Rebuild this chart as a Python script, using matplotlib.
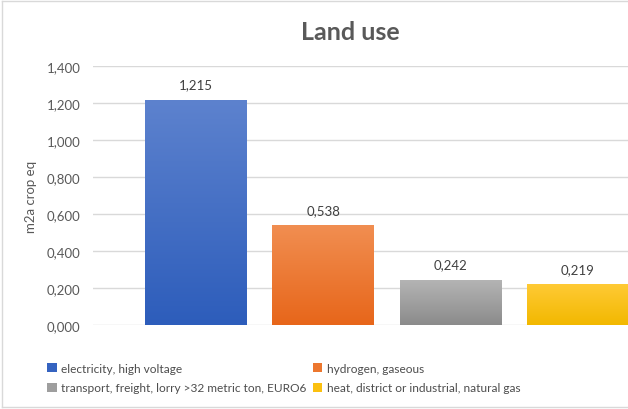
import matplotlib
matplotlib.use("Agg")
import matplotlib.pyplot as plt
import numpy as np
from matplotlib.patches import Patch
from matplotlib.lines import Line2D
from matplotlib.colors import LinearSegmentedColormap

# ---- data ----
series = ["electricity, high voltage",
          "hydrogen, gaseous",
          "transport, freight, lorry >32 metric ton, EURO6",
          "heat, district or industrial, natural gas"]
values = [1.215, 0.538, 0.242, 0.219]
yticks = [0.0, 0.2, 0.4, 0.6, 0.8, 1.0, 1.2, 1.4]
title = "Land use"
ylabel = "m2a crop eq"

top_colors = ["#5d82ce", "#f18e51", "#b4b4b4", "#ffca35"]
bot_colors = ["#2d5dbb", "#e7661a", "#8b8b8b", "#f2b800"]
legend_colors = ["#3563c0", "#ec772e", "#9e9e9e", "#fbc010"]

def fmt(v):
    return f"{v:.3f}".replace(".", ",")

plt.rcParams['font.family'] = ['Lato', 'DejaVu Sans']

fig = plt.figure(figsize=(6.28, 4.10), dpi=100)
W, H = 628, 410
ax = fig.add_axes([93 / W, (H - 326) / H, (681 - 93) / W, 259 / H])

x = np.arange(len(values))
bars = ax.bar(x, values, width=0.8, color=bot_colors, zorder=2)
for b, tc, bc in zip(bars, top_colors, bot_colors):
    cmap = LinearSegmentedColormap.from_list("g", [bc, tc])
    grad = np.linspace(0, 1, 256).reshape(-1, 1)
    x0, y0 = b.get_x(), b.get_y()
    im = ax.imshow(grad, cmap=cmap, aspect="auto", origin="lower",
                   extent=[x0, x0 + b.get_width(), y0, y0 + b.get_height()],
                   zorder=3)
    im.set_clip_path(b)

for xi, v in zip(x, values):
    ax.annotate(fmt(v), (xi, v), xytext=(0, 7), textcoords="offset points",
                ha="center", va="bottom", fontsize=9.5, color="#404040")

ax.set_xlim(-0.81, 3.81)
ax.set_ylim(0, 1.4)
ax.set_yticks(yticks)
ax.set_yticklabels([fmt(t) for t in yticks])
ax.set_xticks([])
ax.tick_params(axis="y", length=0, pad=9, labelsize=9.5, labelcolor="#595959")
for s in ax.spines.values():
    s.set_visible(False)
ax.grid(axis="y", color="#d9d9d9", linewidth=1, zorder=0)
ax.set_axisbelow(True)
ax.set_ylabel(ylabel, fontsize=9.5, color="#595959")
ax.yaxis.set_label_coords(-(93 - 37) / 588, 0.5)

fig.text(350 / W, 1 - 32 / H, title, ha="center", va="center",
         fontsize=18, fontweight="bold", color="#595959")

order = [0, 2, 1, 3]
handles = [Patch(facecolor=legend_colors[i], edgecolor="none") for i in order]
labels = [series[i] for i in order]
fig.legend(handles, labels, ncol=2, loc="upper left",
           bbox_to_anchor=(47 / W, 1 - 364 / H), frameon=False,
           fontsize=8.6, handlelength=0.8, handleheight=0.8,
           handletextpad=0.4, columnspacing=0.5, labelspacing=0.7,
           borderpad=0, borderaxespad=0, labelcolor="#4d4d4d")

bc = "#d9d9d9"
fig.add_artist(Line2D([1.5 / W, 1.5 / W], [1 - 1.5 / H, 1 - 407.5 / H], color=bc, lw=1))
fig.add_artist(Line2D([1.5 / W, 1], [1 - 1.5 / H, 1 - 1.5 / H], color=bc, lw=1))
fig.add_artist(Line2D([1.5 / W, 1], [1 - 407.5 / H, 1 - 407.5 / H], color=bc, lw=1))

fig.savefig("out.png", dpi=100)
